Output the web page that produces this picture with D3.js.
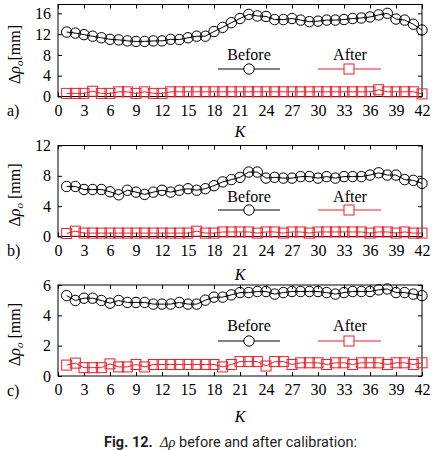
<!DOCTYPE html>
<html><head><meta charset="utf-8">
<script src="https://cdn.jsdelivr.net/npm/d3@7"></script>
<style>
html,body{margin:0;padding:0;background:#fff;}
svg{display:block;}
</style>
</head><body>
<script>
// ---- data ----
const kValues = [1,2,3,4,5,6,7,8,9,10,11,12,13,14,15,16,17,18,19,20,21,22,23,24,25,26,27,28,29,30,31,32,33,34,35,36,37,38,39,40,41,42];
const xTicks = [0,3,6,9,12,15,18,21,24,27,30,33,36,39,42];
const seriesNames = ["Before","After"];
const panelLabels = ["a)","b)","c)"];

const beforeA = [12.4,12.2,11.9,11.6,11.3,11.0,10.9,10.7,10.6,10.6,10.7,10.7,11.0,10.95,11.3,11.6,11.6,12.5,13.3,14.2,15.0,15.8,15.5,15.4,14.8,14.8,15.0,14.7,14.4,14.5,14.7,14.7,14.8,15.0,15.1,15.3,15.7,16.0,14.9,14.7,13.9,12.8];
const afterA  = [0.6,0.6,0.6,1.0,0.6,0.6,0.9,0.9,0.6,0.9,0.6,0.6,0.9,0.9,0.9,0.9,0.9,0.9,0.9,0.9,0.9,0.9,0.9,0.9,0.9,0.9,0.9,0.9,0.9,0.9,0.9,0.9,0.9,0.9,0.9,0.9,1.3,0.9,0.9,0.9,0.9,0.5];
const yTicksA = [0,4,8,12,16];

const beforeB = [6.6,6.6,6.2,6.2,6.2,5.9,5.5,6.1,5.85,5.55,5.85,6.1,5.85,6.1,6.3,6.1,6.3,6.7,7.2,7.5,7.8,8.5,8.5,7.7,7.8,7.7,7.7,7.9,7.9,7.7,7.9,7.7,7.9,7.9,7.9,8.1,8.4,8.1,8.1,7.5,7.4,7.0];
const afterB  = [0.4,0.7,0.45,0.45,0.45,0.45,0.45,0.45,0.45,0.45,0.45,0.45,0.45,0.45,0.45,0.7,0.45,0.45,0.6,0.6,0.6,0.6,0.45,0.6,0.6,0.45,0.6,0.6,0.45,0.6,0.6,0.6,0.6,0.6,0.6,0.45,0.6,0.6,0.45,0.6,0.45,0.45];
const yTicksB = [0,4,8,12];

const beforeC = [5.3,4.98,5.13,5.13,4.98,4.8,4.98,4.85,4.85,4.85,4.74,4.74,4.74,4.85,4.74,4.74,5.0,5.2,5.2,5.35,5.5,5.5,5.57,5.57,5.4,5.5,5.57,5.57,5.57,5.57,5.5,5.4,5.5,5.57,5.57,5.57,5.68,5.74,5.5,5.5,5.4,5.3];
const afterC  = [0.72,0.85,0.55,0.55,0.55,0.8,0.6,0.6,0.76,0.6,0.76,0.76,0.76,0.76,0.76,0.76,0.76,0.76,0.6,0.76,0.95,0.95,0.95,0.66,0.95,0.95,0.76,0.87,0.87,0.87,0.76,0.87,0.87,0.76,0.87,0.87,0.87,0.76,0.87,0.87,0.76,0.87];
const yTicksC = [0,2,4,6];

// ---- layout ----
const W = 434, H = 450;
const SERIF = "'Liberation Serif','Times New Roman',serif";
const RED = "#e8202a";
const svg = d3.select("body").append("svg").attr("width", W).attr("height", H);

const panels = [
  {label: panelLabels[0], before: beforeA, after: afterA, yTicks: yTicksA, ymax: 17.7, top: 4.5, bottom: 96.5, space: false, kY: 137, legText: 59.5, legLine: 69},
  {label: panelLabels[1], before: beforeB, after: afterB, yTicks: yTicksB, ymax: 12, top: 145.5, bottom: 236.5, space: true, kY: 280, legText: 202, legLine: 210},
  {label: panelLabels[2], before: beforeC, after: afterC, yTicks: yTicksC, ymax: 6, top: 285, bottom: 376, space: true, kY: 422, legText: 331, legLine: 341}
];

const x = d3.scaleLinear().domain([0, 42]).range([58, 422]);

panels.forEach(p => {
  const y = d3.scaleLinear().domain([0, p.ymax]).range([p.bottom, p.top]);
  const g = svg.append("g");

  const styleAxis = sel => {
    sel.select(".domain").remove();
    sel.selectAll("line").attr("stroke", "#000");
    sel.selectAll("text").attr("font-family", SERIF).attr("font-size", 16).attr("fill", "#000");
  };
  g.append("g").attr("transform", `translate(0,${p.bottom})`)
    .call(d3.axisBottom(x).tickValues(xTicks).tickSize(-4).tickPadding(8).tickFormat(d3.format("d")))
    .call(styleAxis);
  g.append("g").attr("transform", `translate(0,${p.top})`)
    .call(d3.axisTop(x).tickValues(xTicks).tickSize(-4).tickFormat(""))
    .call(styleAxis);
  g.append("g").attr("transform", `translate(58,0)`)
    .call(d3.axisLeft(y).tickValues(p.yTicks).tickSize(-4).tickPadding(7).tickFormat(d3.format("d")))
    .call(styleAxis);
  g.append("g").attr("transform", `translate(422,0)`)
    .call(d3.axisRight(y).tickValues(p.yTicks).tickSize(-4).tickFormat(""))
    .call(styleAxis);

  g.append("rect").attr("x", 58).attr("y", p.top).attr("width", 364).attr("height", p.bottom - p.top)
    .attr("fill", "none").attr("stroke", "#000").attr("stroke-width", 1);

  const lineB = d3.line().x((d, i) => x(kValues[i])).y(d => y(d));
  g.append("path").datum(p.before).attr("d", lineB).attr("fill", "none").attr("stroke", "#000").attr("stroke-width", 1);
  g.append("path").datum(p.after).attr("d", lineB).attr("fill", "none").attr("stroke", RED).attr("stroke-width", 1);

  g.selectAll(".cb").data(p.before).join("circle")
    .attr("cx", (d, i) => x(kValues[i])).attr("cy", d => y(d)).attr("r", 5.2)
    .attr("fill", "none").attr("stroke", "#000").attr("stroke-width", 1);
  g.selectAll(".sa").data(p.after).join("rect")
    .attr("x", (d, i) => x(kValues[i]) - 5).attr("y", d => y(d) - 5).attr("width", 10).attr("height", 10)
    .attr("fill", "none").attr("stroke", RED).attr("stroke-width", 1);

  g.append("text").attr("x", 249).attr("y", p.legText).attr("text-anchor", "middle")
    .attr("font-family", SERIF).attr("font-size", 16).text(seriesNames[0]);
  g.append("line").attr("x1", 218).attr("x2", 280).attr("y1", p.legLine).attr("y2", p.legLine).attr("stroke", "#000");
  g.append("circle").attr("cx", 249).attr("cy", p.legLine).attr("r", 5.2).attr("fill", "#fff").attr("stroke", "#000");
  g.append("text").attr("x", 350).attr("y", p.legText).attr("text-anchor", "middle")
    .attr("font-family", SERIF).attr("font-size", 16).text(seriesNames[1]);
  g.append("line").attr("x1", 318).attr("x2", 381).attr("y1", p.legLine).attr("y2", p.legLine).attr("stroke", RED);
  g.append("rect").attr("x", 344).attr("y", p.legLine - 5).attr("width", 10).attr("height", 10).attr("fill", "#fff").attr("stroke", RED);

  g.append("text").attr("x", 7).attr("y", p.bottom + 19.5).attr("font-family", SERIF).attr("font-size", 16).text(p.label);

  g.append("text").attr("x", 240).attr("y", p.kY).attr("text-anchor", "middle")
    .attr("font-family", SERIF).attr("font-size", 16).attr("font-style", "italic").text("K");

  const cy = (p.top + p.bottom) / 2 + 4;
  const yl = g.append("text").attr("transform", `translate(14,${cy}) rotate(-90)`)
    .attr("text-anchor", "middle").attr("dy", "0.35em")
    .attr("font-family", SERIF).attr("font-size", 16);
  yl.append("tspan").text("Δ");
  yl.append("tspan").attr("font-style", "italic").text("ρ");
  yl.append("tspan").attr("font-style", "italic").attr("font-size", 11).attr("dy", 3).text("o");
  yl.append("tspan").attr("dy", -3).text(p.space ? "\u00a0[mm]" : "[mm]");
});

// caption
const cap = svg.append("text").attr("x", 104).attr("y", 447)
  .attr("font-family", "Roboto, 'Open Sans', sans-serif").attr("font-size", 14.5).attr("fill", "#231f20");
cap.append("tspan").attr("font-weight", "bold").text("Fig. 12.");
cap.append("tspan").text("\u00a0\u00a0");
cap.append("tspan").attr("font-style", "italic").attr("font-family", SERIF).text("Δρ");
cap.append("tspan").text(" before and after calibration:");
</script>
</body></html>
